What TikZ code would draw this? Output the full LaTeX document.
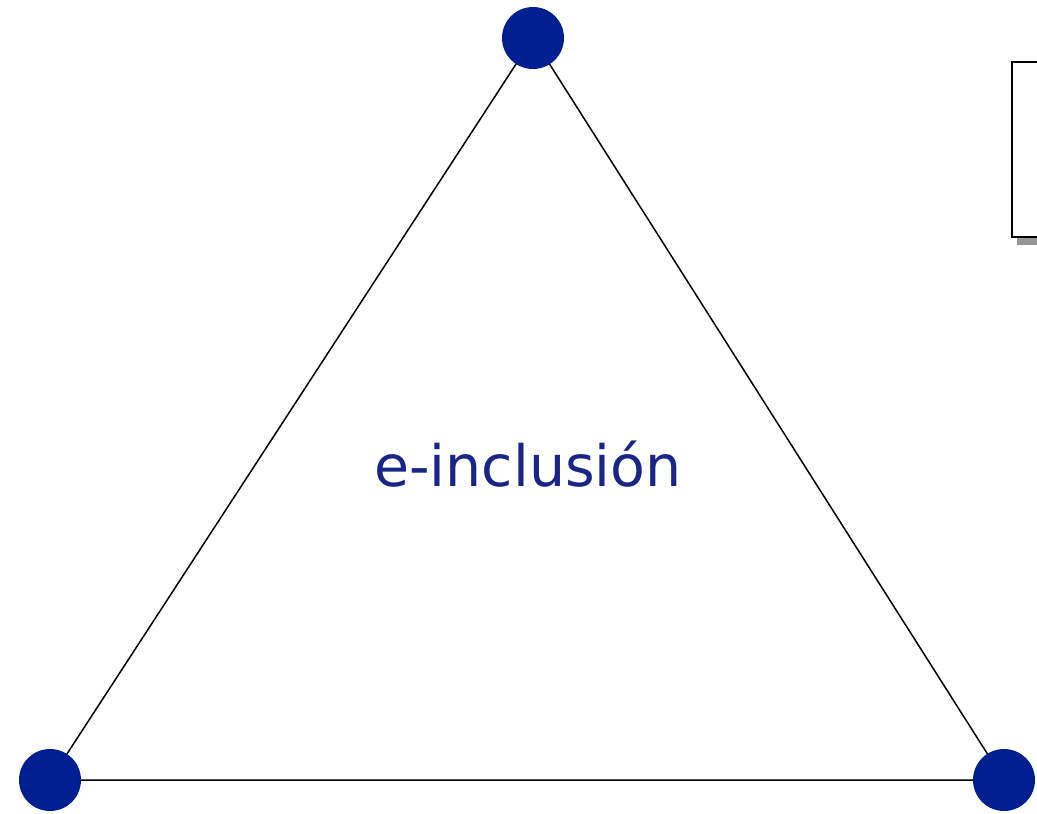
\documentclass[tikz,border=0pt]{standalone}
\usepackage{fontspec}
\newfontfamily\labelfont{DejaVu Sans}
\definecolor{dotblue}{RGB}{0,32,145}
\definecolor{txtblue}{RGB}{25,38,135}
\definecolor{shadowgray}{RGB}{150,150,150}
\tikzset{
  vertex/.style={circle, fill=dotblue, inner sep=0pt, minimum width=62pt, minimum height=60pt},
  edge/.style={draw=black, line width=1.5pt},
  boxline/.style={draw=black, line width=2.2pt, fill=white},
}
\begin{document}
\begin{tikzpicture}[x=1pt,y=-1pt]
\useasboundingbox (0,0) rectangle (1037,814);
\clip (0,0) rectangle (1037,814);
\fill[white] (0,0) rectangle (1037,814);
% box at right, partially cut
\fill[shadowgray] (1017,237) rectangle (1045,245);
\path[boxline] (1012,62) rectangle (1050,237);
\coordinate (ct) at (533,38);
\coordinate (cl) at (50,780);
\coordinate (cr) at (1004,780);
\draw[edge] (ct) -- (cl) -- (cr) -- cycle;
\node[vertex] (top) at (ct) {};
\node[vertex] (left) at (cl) {};
\node[vertex] (right) at (cr) {};
\node[text=txtblue, font=\labelfont\fontsize{57}{62}\selectfont, inner sep=0pt] (label) at (528,464) {e-inclusión};
\end{tikzpicture}
\end{document}
